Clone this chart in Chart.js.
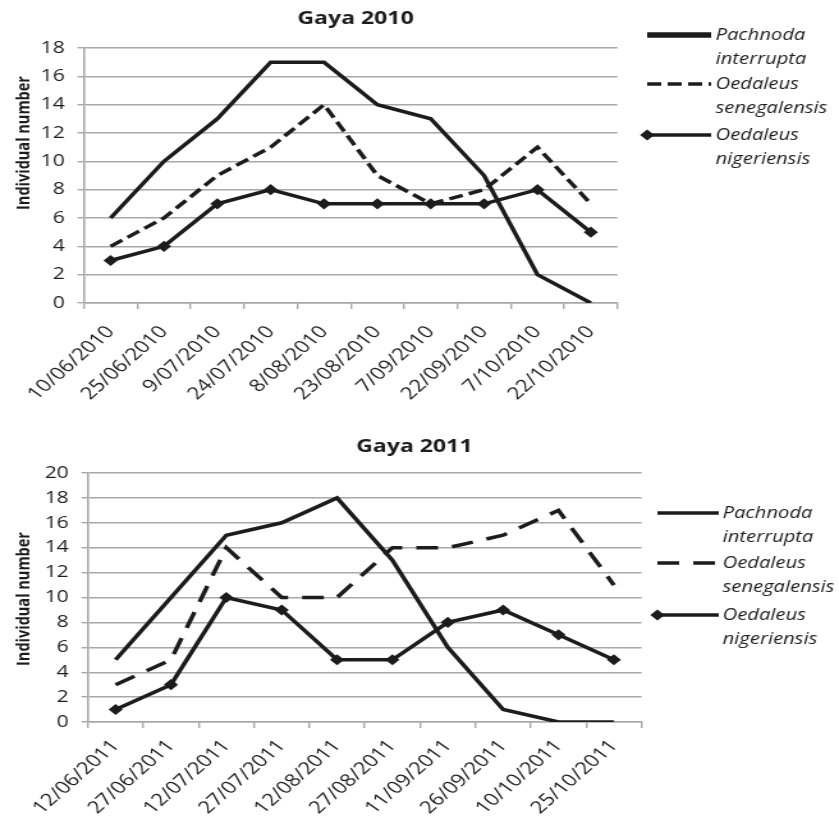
<!DOCTYPE html>
<html>
<head>
<meta charset="utf-8">
<script src="https://cdn.jsdelivr.net/npm/chart.js@4.4.0/dist/chart.umd.min.js"></script>
<style>
  body { margin: 0; background: #fff; }
  canvas { display: block; }
</style>
</head>
<body>
<!-- drawn narrow and shown wide: the reference figure is stretched sideways -->
<canvas id="chart-2010" width="656" height="420" style="width:839px;height:420px"></canvas>
<canvas id="chart-2011" width="656" height="396" style="width:839px;height:396px"></canvas>
<script>
const dates2010 = ['10/06/2010', '25/06/2010', '9/07/2010', '24/07/2010', '8/08/2010',
  '23/08/2010', '7/09/2010', '22/09/2010', '7/10/2010', '22/10/2010'];
const pachnoda2010 = [6, 10, 13, 17, 17, 14, 13, 9, 2, 0];
const senegalensis2010 = [4, 6, 9, 11, 14, 9, 7, 8, 11, 7];
const nigeriensis2010 = [3, 4, 7, 8, 7, 7, 7, 7, 8, 5];

const dates2011 = ['12/06/2011', '27/06/2011', '12/07/2011', '27/07/2011', '12/08/2011',
  '27/08/2011', '11/09/2011', '26/09/2011', '10/10/2011', '25/10/2011'];
const pachnoda2011 = [5, 10, 15, 16, 18, 13, 6, 1, 0, 0];
const senegalensis2011 = [3, 5, 14, 10, 10, 14, 14, 15, 17, 11];
const nigeriensis2011 = [1, 3, 10, 9, 5, 5, 8, 9, 7, 5];

const seriesNames = ['Pachnoda interrupta', 'Oedaleus senegalensis', 'Oedaleus nigeriensis'];

const INK = '#1c1c1c';
const GRID = '#a8a8a8';
const FONT = '"Open Sans", "DejaVu Sans", sans-serif';

// titles, axis title and the two-line legend are drawn here
const decorPlugin = {
  id: 'decor',
  afterDraw(chart, args, opts) {
    const ctx = chart.ctx;
    ctx.save();
    ctx.fillStyle = INK;
    ctx.textBaseline = 'middle';

    ctx.textAlign = 'center';
    ctx.font = 'bold 18px ' + FONT;
    ctx.fillText(opts.title, opts.titleX, opts.titleY);

    ctx.save();
    ctx.translate(opts.yTitleX, opts.yTitleY);
    ctx.rotate(-Math.PI / 2);
    ctx.font = 'bold 14.5px ' + FONT;
    ctx.fillText('Individual number', 0, 0);
    ctx.restore();

    ctx.textAlign = 'left';
    ctx.font = 'italic 15.8px ' + FONT;
    chart.data.datasets.forEach((ds, i) => {
      const y = opts.legendY[i];
      ctx.strokeStyle = INK;
      ctx.lineWidth = opts.legendWidths[i];
      ctx.setLineDash(ds.borderDash || []);
      ctx.beginPath();
      ctx.moveTo(opts.legendX1, y);
      ctx.lineTo(opts.legendX2, y);
      ctx.stroke();
      ctx.setLineDash([]);
      if (ds.pointRadius > 0) {
        ctx.fillStyle = INK;
        ctx.lineWidth = ds.pointBorderWidth;
        Chart.helpers.drawPoint(ctx, {
          pointStyle: ds.pointStyle,
          radius: ds.pointRadius,
          borderWidth: ds.pointBorderWidth,
          rotation: 0
        }, opts.legendX1, y);
      }
      ctx.fillStyle = INK;
      ds.label.split(' ').forEach((word, j) => {
        ctx.fillText(word, opts.legendTextX, y + j * 24.5);
      });
    });
    ctx.restore();
  }
};

function makeDatasets(pach, sene, nige, dash) {
  return [
    {
      label: seriesNames[0],
      data: pach,
      borderColor: INK,
      borderWidth: 3.5,
      pointRadius: 0
    },
    {
      label: seriesNames[1],
      data: sene,
      borderColor: INK,
      borderWidth: 3.5,
      borderDash: dash,
      pointRadius: 0
    },
    {
      label: seriesNames[2],
      data: nige,
      borderColor: INK,
      backgroundColor: INK,
      borderWidth: 3.5,
      pointStyle: 'rectRot',
      pointRadius: 4.5,
      pointBorderWidth: 1.5,
      pointBackgroundColor: INK,
      pointBorderColor: INK
    }
  ];
}

function createLineChart(id, labels, datasets, yMax, box, decor) {
  return new Chart(document.getElementById(id), {
    type: 'line',
    data: { labels, datasets },
    plugins: [decorPlugin],
    options: {
      responsive: false,
      animation: false,
      devicePixelRatio: 1,
      layout: { padding: { top: box.top, left: 0, right: box.right, bottom: 0 } },
      elements: { line: { tension: 0, borderCapStyle: 'butt', borderJoinStyle: 'miter' } },
      plugins: {
        legend: { display: false },
        title: { display: false },
        tooltip: { enabled: false },
        decor
      },
      scales: {
        x: {
          offset: true,
          grid: { offset: true, drawOnChartArea: false, drawTicks: true, tickLength: 6, color: GRID, lineWidth: 1.4 },
          border: { color: GRID, width: 1.6 },
          ticks: {
            autoSkip: false,
            minRotation: 48,
            maxRotation: 48,
            padding: box.labelPad,
            color: INK,
            font: { family: FONT, size: 17.3 }
          },
          afterFit(scale) {
            scale.height = box.xHeight;
            scale.paddingLeft = 0;
            scale.paddingRight = 0;
          }
        },
        y: {
          min: 0,
          max: yMax,
          ticks: { stepSize: 2, padding: 10, color: INK, font: { family: FONT, size: 16.5 } },
          grid: { color: GRID, lineWidth: 1.4, tickLength: 5 },
          border: { color: GRID, width: 1.6 },
          afterFit(scale) {
            scale.width = box.left;
          }
        }
      }
    }
  });
}

createLineChart('chart-2010', dates2010,
  makeDatasets(pachnoda2010, senegalensis2010, nigeriensis2010, [11, 5]),
  18,
  { top: 48, right: 173.2, left: 65.6, xHeight: 117, labelPad: 13 },
  {
    title: 'Gaya 2010', titleX: 278, titleY: 19,
    yTitleX: 19, yTitleY: 143,
    legendX1: 506, legendX2: 556, legendTextX: 559.5,
    legendY: [35, 84, 135],
    legendWidths: [5.5, 3.5, 3.5]
  });

createLineChart('chart-2011', dates2011,
  makeDatasets(pachnoda2011, senegalensis2011, nigeriensis2011, [17, 11]),
  20,
  { top: 53, right: 154.4, left: 68.75, xHeight: 94, labelPad: 8 },
  {
    title: 'Gaya 2011', titleX: 324, titleY: 27,
    yTitleX: 19, yTitleY: 179,
    legendX1: 514, legendX2: 562, legendTextX: 565,
    legendY: [93, 143, 195],
    legendWidths: [3.5, 3.5, 3.5]
  });
</script>
</body>
</html>
